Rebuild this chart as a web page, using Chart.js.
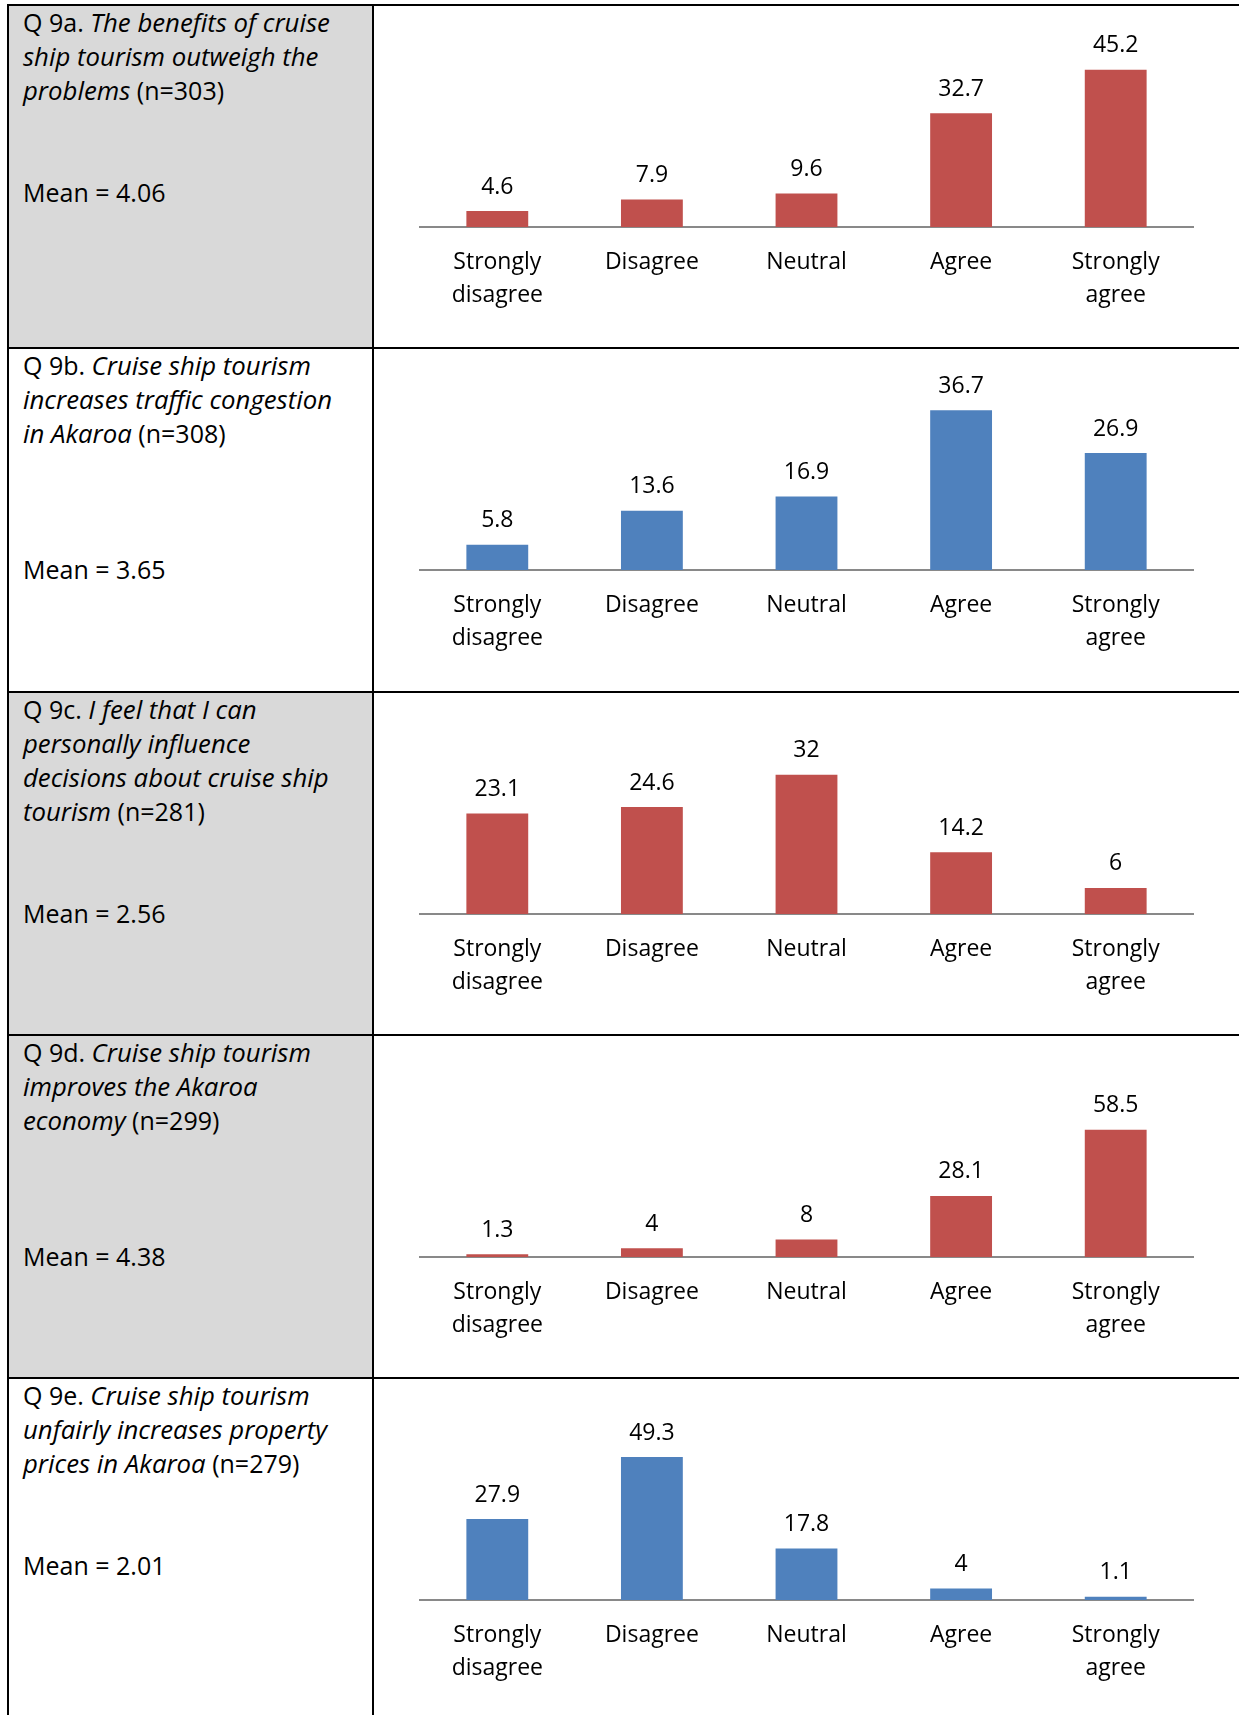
<!DOCTYPE html>
<html>
<head>
<meta charset="utf-8">
<title>Q9 cruise ship tourism</title>
<script src="https://cdn.jsdelivr.net/npm/chart.js@4/dist/chart.umd.min.js"></script>
<style>
  html, body { margin: 0; padding: 0; background: #fff; }
  body { width: 1239px; height: 1715px; position: relative; overflow: hidden;
         font-family: "Open Sans", sans-serif; color: #000; }
  .line  { position: absolute; background: #000; }
  .cell  { position: absolute; }
  .gray  { background: #d9d9d9; }
  .txt   { position: absolute; font-size: 25px; line-height: 34px; white-space: nowrap; }
  .txt i { font-style: italic; font-size: 1.03em; }
  .wrap  { position: absolute; }
</style>
</head>
<body>
<div id="grid"></div>
<script>
// ── Data ─────────────────────────────────────────────────
const categories = [['Strongly', 'disagree'], 'Disagree', 'Neutral', 'Agree', ['Strongly', 'agree']];

const questionIds = ['Q 9a.', 'Q 9b.', 'Q 9c.', 'Q 9d.', 'Q 9e.'];
const questionText = [
  ['The benefits of cruise', 'ship tourism outweigh the', 'problems'],
  ['Cruise ship tourism', 'increases traffic congestion', 'in Akaroa'],
  ['I feel that I can', 'personally influence', 'decisions about cruise ship', 'tourism'],
  ['Cruise ship tourism', 'improves the Akaroa', 'economy'],
  ['Cruise ship tourism', 'unfairly increases property', 'prices in Akaroa']
];
const sampleSizes = [303, 308, 281, 299, 279];
const means = ['4.06', '3.65', '2.56', '4.38', '2.01'];

const q9a = [4.6, 7.9, 9.6, 32.7, 45.2];
const q9b = [5.8, 13.6, 16.9, 36.7, 26.9];
const q9c = [23.1, 24.6, 32, 14.2, 6];
const q9d = [1.3, 4, 8, 28.1, 58.5];
const q9e = [27.9, 49.3, 17.8, 4, 1.1];
const axisMax = [50, 40, 40, 80, 60];

// ── Layout ───────────────────────────────────────────────
const series   = [q9a, q9b, q9c, q9d, q9e];
const RED = '#c0504d', BLUE = '#4f81bd';
const barColor = [RED, BLUE, RED, RED, BLUE];
const grayCell = [true, false, true, true, false];
const meanLine = [6, 7, 7, 7, 6];          // line number of "Mean = ..."
const rowTop = i => Math.round(5 + i * 343.25);
const FONT = '"Open Sans", sans-serif';

const grid = document.getElementById('grid');
function box(cls, x, y, w, h) {
  const d = document.createElement('div');
  d.className = cls;
  Object.assign(d.style, { left: x + 'px', top: y + 'px', width: w + 'px', height: h + 'px' });
  grid.appendChild(d);
  return d;
}

// value labels above the bars
const valueLabels = {
  id: 'valueLabels',
  afterDatasetsDraw(chart) {
    const { ctx } = chart;
    const ds = chart.data.datasets[0];
    ctx.save();
    ctx.font = '23px ' + FONT;
    ctx.fillStyle = '#000';
    ctx.textAlign = 'center';
    ctx.textBaseline = 'middle';
    chart.getDatasetMeta(0).data.forEach((bar, i) => {
      ctx.fillText(String(ds.data[i]), bar.x, bar.y - 24);
    });
    ctx.restore();
  }
};

for (let i = 0; i < 5; i++) {
  const top = rowTop(i);
  const bottom = i < 4 ? rowTop(i + 1) : 1716;
  const h = bottom - top - 2;

  if (grayCell[i]) box('cell gray', 9, top + 1, 363, h);

  // question text
  const t = box('txt', 23, top, 348, bottom - top);
  const lines = questionText[i].map((s, k) => k === 0
    ? questionIds[i] + ' <i>' + s + '</i>'
    : '<i>' + s + '</i>');
  lines[lines.length - 1] += ' (n=' + sampleSizes[i] + ')';
  while (lines.length < meanLine[i] - 1) lines.push('&nbsp;');
  lines.push('Mean = ' + means[i]);
  t.innerHTML = lines.join('<br>');

  // chart
  const wrap = box('wrap', 374, top + 1, 865, h);
  const cv = document.createElement('canvas');
  wrap.appendChild(cv);
  const axisH = h - 221;

  new Chart(cv, {
    type: 'bar',
    data: {
      labels: categories,
      datasets: [{
        data: series[i],
        backgroundColor: barColor[i],
        borderWidth: 0,
        barPercentage: 0.4,
        categoryPercentage: 1.0
      }]
    },
    options: {
      responsive: true, maintainAspectRatio: false,
      animation: false,
      layout: { padding: { left: 46, right: 46, top: 47, bottom: 0 } },
      plugins: { legend: { display: false }, tooltip: { enabled: false } },
      scales: {
        x: {
          grid: { display: false, drawTicks: false },
          border: { display: true, color: '#898989', width: 2 },
          ticks: {
            autoSkip: false, maxRotation: 0, padding: 19, color: '#000',
            font: { family: FONT, size: 23, lineHeight: 1.42 }
          },
          afterFit(scale) { scale.height = axisH; }
        },
        y: { display: false, min: 0, max: axisMax[i] }
      }
    },
    plugins: [valueLabels]
  });
}

// table rules
for (let i = 0; i < 5; i++) box('line', 7, rowTop(i) - 1, 1232, 2);
box('line', 7, 4, 2, 1711);
box('line', 372, 4, 2, 1711);
</script>
</body>
</html>
